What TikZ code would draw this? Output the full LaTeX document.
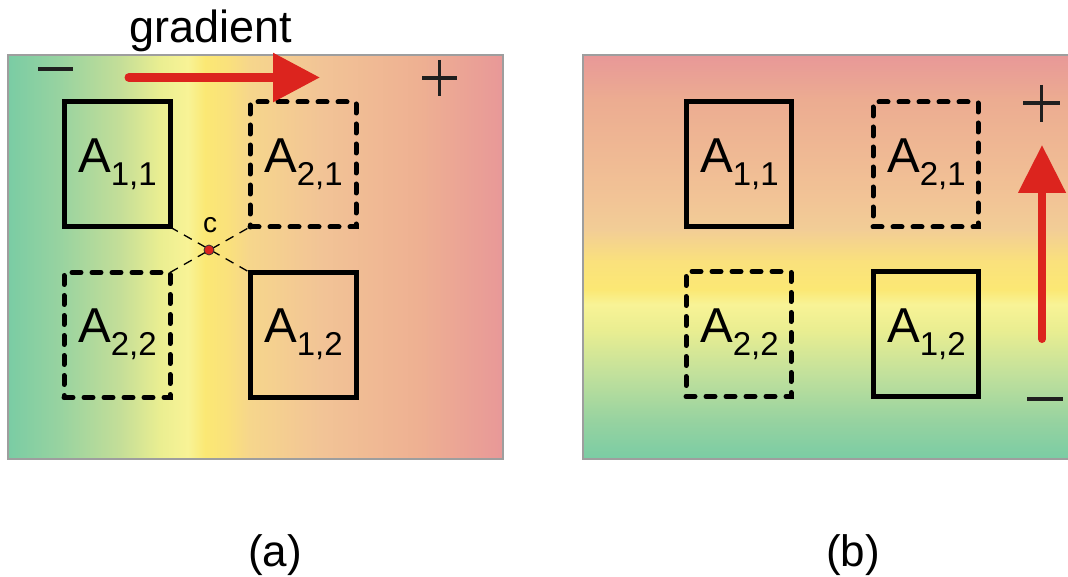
\documentclass[tikz,border=0pt]{standalone}
\usepackage{fontspec}
\setmainfont{Liberation Sans}
\usetikzlibrary{arrows.meta,calc}

\definecolor{arrowred}{RGB}{220,36,30}
\definecolor{framegray}{RGB}{158,158,158}
\definecolor{s0}{RGB}{122,204,164}
\definecolor{s1}{RGB}{152,211,160}
\definecolor{s2}{RGB}{196,222,152}
\definecolor{s3}{RGB}{234,238,145}
\definecolor{s4}{RGB}{248,243,150}
\definecolor{s5}{RGB}{251,232,116}
\definecolor{s5b}{RGB}{250,225,124}
\definecolor{s6}{RGB}{246,214,140}
\definecolor{s7}{RGB}{242,196,150}
\definecolor{s8}{RGB}{238,176,146}
\definecolor{s9}{RGB}{232,152,152}
\definecolor{t2}{RGB}{192,224,156}
\definecolor{t6}{RGB}{242,205,150}
\definecolor{t8}{RGB}{236,172,145}

\pgfdeclarehorizontalshading{gradA}{100bp}{color(0bp)=(s0); color(25bp)=(s0);
  color(30.25bp)=(s1); color(36.31bp)=(s2); color(40.35bp)=(s3); color(43.18bp)=(s4);
  color(44.90bp)=(s5); color(47.22bp)=(s5b); color(49.44bp)=(s6); color(56.52bp)=(s7);
  color(66.62bp)=(s8); color(75bp)=(s9); color(100bp)=(s9)}
\pgfdeclareverticalshading{gradB}{100bp}{color(0bp)=(s0); color(25bp)=(s0);
  color(29.94bp)=(s1); color(35.3bp)=(t2); color(41.05bp)=(s3); color(44.14bp)=(s4);
  color(45.99bp)=(s5); color(49.44bp)=(s5b); color(53.40bp)=(t6); color(57.10bp)=(s7);
  color(69.44bp)=(t8); color(75bp)=(s9); color(100bp)=(s9)}

\newcommand{\Alab}[1]{{\fontsize{49}{50}\selectfont A}\raisebox{-13pt}{\fontsize{33}{34}\selectfont #1}}

\begin{document}
\begin{tikzpicture}[x=1pt,y=-1pt,
  box/.style={draw=black, line width=5pt, minimum width=106pt, minimum height=125pt, inner sep=0pt, outer sep=0pt},
  dbox/.style={box, dash pattern=on 9pt off 11pt, line cap=round},
  lab/.style={anchor=base west, inner sep=0pt},
  frame/.style={draw=framegray, line width=1.6pt},
  sign/.style={line width=3.6pt, draw=black!88},
  redarrow/.style={draw=arrowred, line cap=round, -{Triangle[length=47pt,width=47pt]}},
  diag/.style={draw=black, line width=1.3pt, dash pattern=on 9pt off 7pt},
  big/.style={font=\fontsize{45}{50}\selectfont, inner sep=0pt}
]
\useasboundingbox (0,0) rectangle (1068,577);

% ---------- panel (a) ----------
\shade[shading=gradA, frame] (8,55) rectangle (503,459);

\node[box]  (a11) at (117,164.5) {};
\node[dbox] (a21) at (303,164.5) {};
\node[dbox] (a22) at (117,335) {};
\node[box]  (a12) at (303,335) {};

\node[lab] (la11) at ($(a11.north west)+(14,71)$) {\Alab{1,1}};
\node[lab] (la21) at ($(a21.north west)+(14,71)$) {\Alab{2,1}};
\node[lab] (la22) at ($(a22.north west)+(14,70)$) {\Alab{2,2}};
\node[lab] (la12) at ($(a12.north west)+(14,70)$) {\Alab{1,2}};

\draw[diag] (a11.south east) -- (a12.north west);
\draw[diag] (a22.north east) -- (a21.south west);
\node[circle, fill=arrowred, draw=black!80, line width=0.8pt, minimum size=10pt, inner sep=0pt] (c) at (209,250) {};
\node[anchor=base, inner sep=0pt, font=\fontsize{28}{30}\selectfont] (clab) at (210,233) {c};

\node[big, anchor=base] (grad) at (211,43) {gradient};
\coordinate (ga1) at (129,77.5);
\coordinate (ga2) at (320,77.5);
\draw[redarrow, line width=9pt] (ga1) -- (ga2);

\draw[sign] (38,69) -- (73,69);
\draw[sign] (422,78) -- (457,78);
\draw[sign] (439.5,60) -- (439.5,96);

\node[big, anchor=base, font=\fontsize{44}{50}\selectfont] (capa) at (275,566) {(a)};

% ---------- panel (b) ----------
\begin{scope}
\clip (0,0) rectangle (1068,577);
\shade[shading=gradB, frame] (583,55) rectangle (1080,459);
\end{scope}

\node[box, minimum width=105pt]  (b11) at (738.5,164.5) {};
\node[dbox, minimum width=105pt] (b21) at (925.5,164.5) {};
\node[dbox, minimum width=105pt] (b22) at (738.5,334) {};
\node[box, minimum width=105pt]  (b12) at (925.5,334) {};

\node[lab] (lb11) at ($(b11.north west)+(14,71)$) {\Alab{1,1}};
\node[lab] (lb21) at ($(b21.north west)+(14,71)$) {\Alab{2,1}};
\node[lab] (lb22) at ($(b22.north west)+(14,71)$) {\Alab{2,2}};
\node[lab] (lb12) at ($(b12.north west)+(14,71)$) {\Alab{1,2}};

\coordinate (gb1) at (1042,339);
\coordinate (gb2) at (1042,145);
\draw[redarrow, line width=8pt, -{Triangle[length=48pt,width=46pt]}] (gb1) -- (gb2);

\draw[sign] (1023,103) -- (1060,103);
\draw[sign] (1041.5,85) -- (1041.5,122);
\draw[sign] (1027,399) -- (1063,399);

\node[big, anchor=base, font=\fontsize{44}{50}\selectfont] (capb) at (853,566) {(b)};
\end{tikzpicture}
\end{document}
